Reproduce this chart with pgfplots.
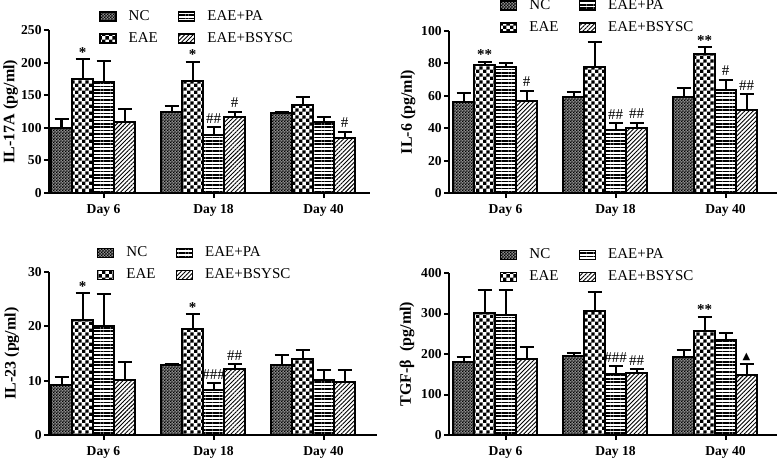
\documentclass[border=0pt]{standalone}
\usepackage{pgfplots}
\pgfplotsset{compat=1.18}
\usepackage{fontspec}
\setmainfont{Liberation Serif}
\newfontfamily\dejavu{DejaVu Sans}
\usetikzlibrary{patterns,patterns.meta}

% small dither for NC, coarse checker for EAE
\pgfdeclarepatternformonly{finechk}{\pgfpointorigin}{\pgfpoint{1.4pt}{1.4pt}}{\pgfpoint{1.4pt}{1.4pt}}{%
  \pgfpathrectangle{\pgfpointorigin}{\pgfpoint{0.7pt}{0.7pt}}%
  \pgfpathrectangle{\pgfpoint{0.7pt}{0.7pt}}{\pgfpoint{0.7pt}{0.7pt}}%
  \pgfusepath{fill}}
\pgfdeclarepatternformonly{bigchk}{\pgfpointorigin}{\pgfpoint{3.4pt}{3.4pt}}{\pgfpoint{3.4pt}{3.4pt}}{%
  \pgfpathrectangle{\pgfpointorigin}{\pgfpoint{1.7pt}{1.7pt}}%
  \pgfpathrectangle{\pgfpoint{1.7pt}{1.7pt}}{\pgfpoint{1.7pt}{1.7pt}}%
  \pgfusepath{fill}}

\newcommand{\ylab}{\bfseries\fontsize{8}{9}\selectfont}
\pgfplotsset{
  bb/.style={ybar, bar width=21, bar shift=0pt, draw=black, line width=1pt,
    error bars/.cd, y dir=plus, y explicit,
      error bar style={line width=1pt, black},
      error mark options={rotate=90, mark size=3.5pt, line width=1pt, black},
    /pgfplots/.cd,
    legend image code/.code={\draw[##1, line width=0.8pt] (0pt,-2.2pt) rectangle (8pt,2.2pt);}},
  nc/.style={bb, fill=black!45, postaction={pattern=finechk}},
  eae/.style={bb, fill=white, postaction={pattern=bigchk}},
  pa/.style={bb, fill=white, postaction={pattern={Lines[angle=0,distance=1.7pt,line width=0.8pt]}}},
  bs/.style={bb, fill=white, postaction={pattern={Lines[angle=45,distance=1.5pt,line width=0.45pt]}}},
  panel/.style={scale only axis, axis lines=left, axis line style={-, line width=1pt},
    xmin=0, ymin=0, clip=false,
    tick align=outside, major tick length=2.5pt, every tick/.style={black, line width=1pt},
    /pgf/number format/assume math mode=true,
    yticklabel={\pgfmathprintnumber[assume math mode=true]{\tick}},
    ticklabel style={font=\bfseries\fontsize{6.8}{7}\selectfont},
    yticklabel style={inner sep=1pt},
    xticklabel style={inner sep=1pt, yshift=-2pt},
    xticklabels={Day 6,Day 18,Day 40},
    legend columns=2, transpose legend, legend cell align=left,
    legend style={draw=none, fill=none, anchor=north west, inner sep=0pt, outer sep=0pt,
      row sep=4pt, font=\fontsize{7.5}{8}\selectfont,
      nodes={inner sep=0.5pt, text height=5pt, text depth=1pt},
      /tikz/every odd column/.append style={column sep=5.5pt},
      /tikz/every even column/.append style={column sep=9.5pt}},
  },
}
\newcommand{\st}[3]{\node[anchor=base, inner sep=0pt, yshift=1pt, font=\bfseries\fontsize{7.5}{8}\selectfont] at (axis cs:#1,#2) {#3};}
\newcommand{\hs}[3]{\node[anchor=base, inner sep=0pt, yshift=2pt, font=\fontsize{7.5}{8}\selectfont] at (axis cs:#1,#2) {#3};}

\begin{document}
\begin{tikzpicture}
\path[use as bounding box] (0,0) rectangle (389.5pt,228.5pt);

% IL-17A
\begin{axis}[panel, at={(24.5pt,132pt)}, anchor=south west,
  width=160.5pt, height=81.5pt, xmax=321, ymax=250, ytick={0,50,...,250},
  xtick={54.5,164.5,274.5},
  ylabel={IL-17A (pg/ml)},
  every axis y label/.style={at={(axis description cs:-0.12,0.5)}, rotate=90, anchor=center, font=\ylab},
  legend style={at={(0.156,1.125)}}]
\addplot[nc] coordinates {(12.5,100) +- (0,14) (122.5,124) +- (0,10) (232.5,122) +- (0,1.5)};
\addplot[eae] coordinates {(33.5,175) +- (0,30) (143.5,172) +- (0,29) (253.5,135) +- (0,12)};
\addplot[pa] coordinates {(54.5,170) +- (0,33) (164.5,89) +- (0,12) (274.5,109) +- (0,8)};
\addplot[bs] coordinates {(75.5,109) +- (0,20) (185.5,116) +- (0,9) (295.5,85) +- (0,9)};
\legend{NC,EAE,EAE+PA,EAE+BSYSC}
\st{33.5}{205}{*}
\st{143.5}{201}{*}
\hs{164.5}{101}{\#\#}
\hs{185.5}{125}{\#}
\hs{295.5}{94}{\#}
\end{axis}

% IL-6
\begin{axis}[panel, at={(224.5pt,132pt)}, anchor=south west,
  width=164pt, height=81pt, xmax=328, ymax=100, ytick={0,20,...,100},
  xtick={56.5,166.5,276.5},
  ylabel={IL-6 (pg/ml)},
  every axis y label/.style={at={(axis description cs:-0.125,0.5)}, rotate=90, anchor=center, font=\ylab},
  legend style={at={(0.155,1.2)}}]
\addplot[nc] coordinates {(14.5,56) +- (0,6) (124.5,59.5) +- (0,3) (234.5,59) +- (0,6)};
\addplot[eae] coordinates {(35.5,79) +- (0,2) (145.5,78) +- (0,15) (255.5,86) +- (0,4)};
\addplot[pa] coordinates {(56.5,78) +- (0,2) (166.5,39) +- (0,4) (276.5,63.5) +- (0,6.5)};
\addplot[bs] coordinates {(77.5,57) +- (0,6) (187.5,40) +- (0,3.5) (297.5,51.5) +- (0,9.5)};
\legend{NC,EAE,EAE+PA,EAE+BSYSC}
\st{35.5}{81}{**}
\hs{77.5}{63}{\#}
\hs{166.5}{43}{\#\#}
\hs{187.5}{43.5}{\#\#}
\st{255.5}{90}{**}
\hs{276.5}{70}{\#}
\hs{297.5}{61}{\#\#}
\end{axis}

% IL-23
\begin{axis}[panel, at={(24.5pt,11pt)}, anchor=south west,
  width=164pt, height=81.5pt, xmax=328, ymax=30, ytick={0,10,20,30},
  xtick={54.5,164.5,274.5},
  ylabel={IL-23 (pg/ml)},
  every axis y label/.style={at={(axis description cs:-0.113,0.5)}, rotate=90, anchor=center, font=\ylab},
  legend style={at={(0.146,1.16)}}]
\addplot[nc] coordinates {(12.5,9.2) +- (0,1.4) (122.5,12.9) +- (0,0.2) (232.5,12.9) +- (0,1.8)};
\addplot[eae] coordinates {(33.5,21.1) +- (0,5) (143.5,19.6) +- (0,2.6) (253.5,14.0) +- (0,1.7)};
\addplot[pa] coordinates {(54.5,20.1) +- (0,5.8) (164.5,8.3) +- (0,1.2) (274.5,10.1) +- (0,1.9)};
\addplot[bs] coordinates {(75.5,10.1) +- (0,3.3) (185.5,12.1) +- (0,0.9) (295.5,9.8) +- (0,2.1)};
\legend{NC,EAE,EAE+PA,EAE+BSYSC}
\st{33.5}{26.1}{*}
\st{143.5}{22.2}{*}
\hs{164.5}{9.5}{\#\#\#}
\hs{185.5}{13.0}{\#\#}
\end{axis}

% TGF-beta
\begin{axis}[panel, at={(224.5pt,11pt)}, anchor=south west,
  width=164pt, height=81pt, xmax=328, ymax=400, ytick={0,100,...,400},
  xtick={56.5,166.5,276.5},
  ylabel={TGF-β\ \ (pg/ml)},
  every axis y label/.style={at={(axis description cs:-0.128,0.5)}, rotate=90, anchor=center, font=\ylab},
  legend style={at={(0.155,1.155)}}]
\addplot[nc] coordinates {(14.5,180) +- (0,12) (124.5,196) +- (0,7) (234.5,192) +- (0,17)};
\addplot[eae] coordinates {(35.5,301) +- (0,58) (145.5,305) +- (0,49) (255.5,256) +- (0,36)};
\addplot[pa] coordinates {(56.5,296) +- (0,61) (166.5,150) +- (0,20) (276.5,234) +- (0,18)};
\addplot[bs] coordinates {(77.5,187) +- (0,31) (187.5,153) +- (0,9) (297.5,148) +- (0,28)};
\legend{NC,EAE,EAE+PA,EAE+BSYSC}
\hs{166.5}{170}{\#\#\#}
\hs{187.5}{162}{\#\#}
\st{255.5}{292}{**}
\node[anchor=base, inner sep=0pt, yshift=2pt, font=\dejavu\fontsize{5}{5}\selectfont] at (axis cs:297.5,176) {▲};
\end{axis}
\end{tikzpicture}
\end{document}
